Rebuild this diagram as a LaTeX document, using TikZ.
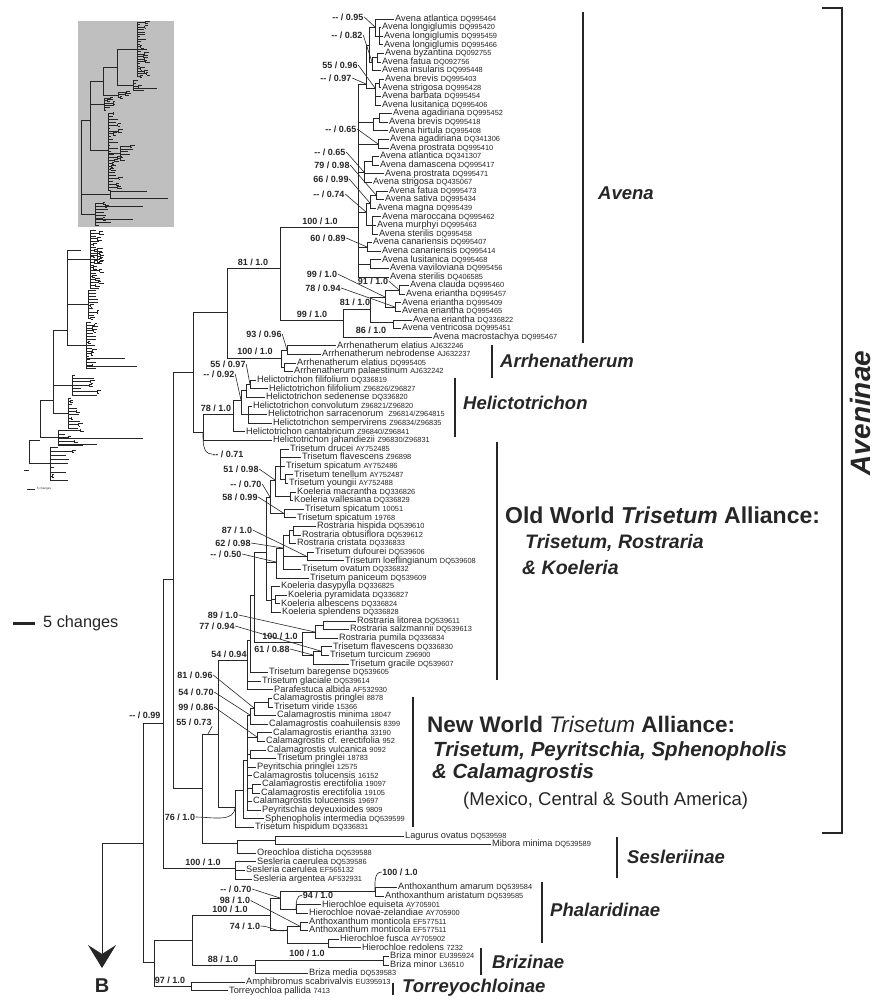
\documentclass[tikz,border=0pt]{standalone}
\usepackage{fontspec}
\setmainfont{Liberation Sans}
\usetikzlibrary{arrows.meta}

\newcommand{\accno}[1]{{\fontsize{7.4}{8}\selectfont #1}}

\tikzset{
  leaf/.style={anchor=west, inner sep=1pt, text height=6.6pt, text depth=1.9pt, font=\fontsize{9.2}{10}\selectfont},
  supp/.style={inner sep=0.5pt, font=\fontsize{9}{10}\selectfont\bfseries},
  lead/.style={line width=0.6pt},
  cbar/.style={line width=2.4pt},
  clab/.style={anchor=west, inner sep=0pt, font=\fontsize{18.5}{20}\selectfont\bfseries\itshape},
  thumb/.style={line width=0.5pt}
}

\begin{document}
\begin{tikzpicture}[x=1pt, y=-1pt, color=black!85]
\useasboundingbox (0,0) rectangle (880,1005);

% overview of the whole tree
\fill[black!25] (78,21) rectangle (174,227);
\pgfmathsetseed{4}
\foreach \sx/\ya/\yb/\n/\lm in {137/22/76/22/8, 133/80/90/3/10, 118/92/97/2/8, 104/98/110/5/9,
    108/113/190/26/9, 120/146/160/5/11, 95/203/225/7/14, 90/230/288/20/8, 97/248/262/5/7,
    88/290/318/9/9, 86/322/368/16/9, 72/375/395/6/26, 68/398/428/9/10, 58/430/445/4/24, 50/447/480/8/22}
{
  \draw[thumb] (\sx,\ya) -- (\sx,\yb);
  \foreach \k in {0,...,\n}
  {
    \pgfmathsetmacro{\yy}{\ya+(\yb-\ya)*\k/\n}
    \pgfmathsetmacro{\ll}{2+\lm*rnd}
    \draw[thumb] (\sx,\yy) -- ++(\ll,0);
    \pgfmathtruncatemacro{\fk}{rnd>0.55}
    \ifnum\fk=1
      \draw[thumb] (\sx+\ll,\yy-1.2) -- ++(0,2.4);
      \draw[thumb] (\sx+\ll,\yy-1.2) -- ++({1+4*rnd},0);
      \draw[thumb] (\sx+\ll,\yy+1.2) -- ++({1+4*rnd},0);
    \fi
  }
}
\draw[thumb] (137,49) -| (117,85) -- (133,85);
\draw[thumb] (133,88) -- (157,88);
\draw[thumb] (117,67) -| (103,95) -- (118,95);
\draw[thumb] (103,81) -| (90,150) -- (108,150);
\draw[thumb] (90,104) -- (104,104);
\draw[thumb] (108,153) -- (120,153);
\draw[thumb] (90,120) -| (81,214) -- (95,214);
\draw[thumb] (81,194) -- (110,194);
\draw[thumb] (110,191) -- (110,198);
\draw[thumb] (110,191) -- (147,191);
\draw[thumb] (110,198) -- (168,198);
\draw[thumb] (95,206) -- (143,206);
\draw[thumb] (95,219) -- (133,219);
\draw[thumb] (81,250) -| (67,345) -- (86,345);
\draw[thumb] (67,259) -- (90,259);
\draw[thumb] (67,304) -- (88,304);
\draw[thumb] (90,255) -- (97,255);
\draw[thumb] (86,366) -- (137,366);
\draw[thumb] (86,358) -- (125,358);
\draw[thumb] (67,330) -| (53,413) -- (68,413);
\draw[thumb] (53,385) -- (72,385);
\draw[thumb] (53,400) -| (40,437) -- (58,437);
\draw[thumb] (58,438) -- (143,438);
\draw[thumb] (58,444) -- (97,444);
\draw[thumb] (40,440) -| (29,463) -- (50,463);
\draw[thumb] (29,470) -- (24,470);
\draw[line width=1pt] (27,489) -- (35,489);
\node[anchor=west, inner sep=0pt, font=\fontsize{3}{3}\selectfont] (tsc) at (37,489) {5 changes};

% scale
\draw[line width=3pt] (13,623) -- (35,623);
\node[anchor=west, inner sep=0pt, font=\fontsize{16.3}{18}\selectfont] (sc) at (43,623) {5 changes};

% tips
\node[leaf] (t0) at (394,19.0) {Avena atlantica \accno{DQ995464}};
\node[leaf] (t1) at (381,27.6) {Avena longiglumis \accno{DQ995420}};
\node[leaf] (t2) at (383,36.2) {Avena longiglumis \accno{DQ995459}};
\node[leaf] (t3) at (383,44.8) {Avena longiglumis \accno{DQ995466}};
\node[leaf] (t4) at (384,53.4) {Avena byzantina \accno{DQ092755}};
\node[leaf] (t5) at (381,62.0) {Avena fatua \accno{DQ092756}};
\node[leaf] (t6) at (381,70.6) {Avena insularis \accno{DQ995448}};
\node[leaf] (t7) at (384,79.2) {Avena brevis \accno{DQ995403}};
\node[leaf] (t8) at (381,87.8) {Avena strigosa \accno{DQ995428}};
\node[leaf] (t9) at (381,96.4) {Avena barbata \accno{DQ995454}};
\node[leaf] (t10) at (381,105.0) {Avena lusitanica \accno{DQ995406}};
\node[leaf] (t11) at (392,113.6) {Avena agadiriana \accno{DQ995452}};
\node[leaf] (t12) at (388,122.2) {Avena brevis \accno{DQ995418}};
\node[leaf] (t13) at (388,130.8) {Avena hirtula \accno{DQ995408}};
\node[leaf] (t14) at (389,139.4) {Avena agadiriana \accno{DQ341306}};
\node[leaf] (t15) at (389,148.0) {Avena prostrata \accno{DQ995410}};
\node[leaf] (t16) at (379,156.6) {Avena atlantica \accno{DQ341307}};
\node[leaf] (t17) at (379,165.2) {Avena damascena \accno{DQ995417}};
\node[leaf] (t18) at (384,173.8) {Avena prostrata \accno{DQ995471}};
\node[leaf] (t19) at (372,182.4) {Avena strigosa \accno{DQ435067}};
\node[leaf] (t20) at (388,191.0) {Avena fatua \accno{DQ995473}};
\node[leaf] (t21) at (384,199.6) {Avena sativa \accno{DQ995434}};
\node[leaf] (t22) at (376,208.2) {Avena magna \accno{DQ995439}};
\node[leaf] (t23) at (381,216.8) {Avena maroccana \accno{DQ995462}};
\node[leaf] (t24) at (376,225.4) {Avena murphyi \accno{DQ995463}};
\node[leaf] (t25) at (378,234.0) {Avena sterilis \accno{DQ995458}};
\node[leaf] (t26) at (372,242.6) {Avena canariensis \accno{DQ995407}};
\node[leaf] (t27) at (381,251.2) {Avena canariensis \accno{DQ995414}};
\node[leaf] (t28) at (381,259.8) {Avena lusitanica \accno{DQ995468}};
\node[leaf] (t29) at (389,268.4) {Avena vaviloviana \accno{DQ995456}};
\node[leaf] (t30) at (389,277.0) {Avena sterilis \accno{DQ406585}};
\node[leaf] (t31) at (409,285.6) {Avena clauda \accno{DQ995460}};
\node[leaf] (t32) at (405,294.2) {Avena eriantha \accno{DQ995457}};
\node[leaf] (t33) at (401,302.8) {Avena eriantha \accno{DQ995409}};
\node[leaf] (t34) at (401,311.4) {Avena eriantha \accno{DQ995465}};
\node[leaf] (t35) at (412,320.0) {Avena eriantha \accno{DQ336822}};
\node[leaf] (t36) at (401,328.6) {Avena ventricosa \accno{DQ995451}};
\node[leaf] (t37) at (432,337.2) {Avena macrostachya \accno{DQ995467}};
\node[leaf] (t38) at (336,345.8) {Arrhenatherum elatius \accno{AJ632246}};
\node[leaf] (t39) at (321,354.4) {Arrhenatherum nebrodense \accno{AJ632237}};
\node[leaf] (t40) at (296,363.0) {Arrhenatherum elatius \accno{DQ995405}};
\node[leaf] (t41) at (293,371.6) {Arrhenatherum palaestinum \accno{AJ632242}};
\node[leaf] (t42) at (256,380.2) {Helictotrichon filifolium \accno{DQ336819}};
\node[leaf] (t43) at (268,388.8) {Helictotrichon filifolium \accno{Z96826/Z96827}};
\node[leaf] (t44) at (265,397.4) {Helictotrichon sedenense \accno{DQ336820}};
\node[leaf] (t45) at (252,406.0) {Helictotrichon convolutum \accno{Z96821/Z96820}};
\node[leaf] (t46) at (267,414.6) {Helictotrichon sarracenorum \ \accno{Z96814/Z964815}};
\node[leaf] (t47) at (272,423.2) {Helictotrichon sempervirens \accno{Z96834/Z96835}};
\node[leaf] (t48) at (245,431.8) {Helictotrichon cantabricum \accno{Z96840/Z96841}};
\node[leaf] (t49) at (272,440.4) {Helictotrichon jahandiezii \accno{Z96830/Z96831}};
\node[leaf] (t50) at (289,449.0) {Trisetum drucei \accno{AY752485}};
\node[leaf] (t51) at (301,457.6) {Trisetum flavescens \accno{Z96898}};
\node[leaf] (t52) at (285,466.2) {Trisetum spicatum \accno{AY752486}};
\node[leaf] (t53) at (293,474.8) {Trisetum tenellum \accno{AY752487}};
\node[leaf] (t54) at (288,483.4) {Trisetum youngii \accno{AY752488}};
\node[leaf] (t55) at (296,492.0) {Koeleria macrantha \accno{DQ336826}};
\node[leaf] (t56) at (293,500.6) {Koeleria vallesiana \accno{DQ336829}};
\node[leaf] (t57) at (304,509.2) {Trisetum spicatum \accno{10051}};
\node[leaf] (t58) at (296,517.8) {Trisetum spicatum \accno{19768}};
\node[leaf] (t59) at (316,526.4) {Rostraria hispida \accno{DQ539610}};
\node[leaf] (t60) at (301,535.0) {Rostraria obtusiflora \accno{DQ539612}};
\node[leaf] (t61) at (296,543.6) {Rostraria cristata \accno{DQ336833}};
\node[leaf] (t62) at (314,552.2) {Trisetum dufourei \accno{DQ539606}};
\node[leaf] (t63) at (344,560.8) {Trisetum loeflingianum \accno{DQ539608}};
\node[leaf] (t64) at (301,569.4) {Trisetum ovatum \accno{DQ336832}};
\node[leaf] (t65) at (309,578.0) {Trisetum paniceum \accno{DQ539609}};
\node[leaf] (t66) at (280,586.6) {Koeleria dasypylla \accno{DQ336825}};
\node[leaf] (t67) at (287,595.2) {Koeleria pyramidata \accno{DQ336827}};
\node[leaf] (t68) at (280,603.8) {Koeleria albescens \accno{DQ336824}};
\node[leaf] (t69) at (281,612.4) {Koeleria splendens \accno{DQ336828}};
\node[leaf] (t70) at (356,621.0) {Rostraria litorea \accno{DQ539611}};
\node[leaf] (t71) at (349,629.6) {Rostraria salzmannii \accno{DQ539613}};
\node[leaf] (t72) at (338,638.2) {Rostraria pumila \accno{DQ336834}};
\node[leaf] (t73) at (332,646.8) {Trisetum flavescens \accno{DQ336830}};
\node[leaf] (t74) at (329,655.4) {Trisetum turcicum \accno{Z96900}};
\node[leaf] (t75) at (349,664.0) {Trisetum gracile \accno{DQ539607}};
\node[leaf] (t76) at (268,672.6) {Trisetum baregense \accno{DQ539605}};
\node[leaf] (t77) at (261,681.2) {Trisetum glaciale \accno{DQ539614}};
\node[leaf] (t78) at (273,689.8) {Parafestuca albida \accno{AF532930}};
\node[leaf] (t79) at (272,698.4) {Calamagrostis pringlei \accno{8878}};
\node[leaf] (t80) at (273,707.0) {Trisetum viride \accno{15366}};
\node[leaf] (t81) at (276,715.6) {Calamagrostis minima \accno{18047}};
\node[leaf] (t82) at (268,724.2) {Calamagrostis coahuilensis \accno{8399}};
\node[leaf] (t83) at (272,732.8) {Calamagrostis eriantha \accno{33190}};
\node[leaf] (t84) at (265,741.4) {Calamagrostis cf. erectifolia \accno{952}};
\node[leaf] (t85) at (266,750.0) {Calamagrostis vulcanica \accno{9092}};
\node[leaf] (t86) at (276,758.6) {Trisetum pringlei \accno{18783}};
\node[leaf] (t87) at (256,767.2) {Peyritschia pringlei \accno{12575}};
\node[leaf] (t88) at (252,775.8) {Calamagrostis tolucensis \accno{16152}};
\node[leaf] (t89) at (261,784.4) {Calamagrostis erectifolia \accno{19097}};
\node[leaf] (t90) at (260,793.0) {Calamagrostis erectifolia \accno{19105}};
\node[leaf] (t91) at (252,801.6) {Calamagrostis tolucensis \accno{19697}};
\node[leaf] (t92) at (261,810.2) {Peyritschia deyeuxioides \accno{9809}};
\node[leaf] (t93) at (264,818.8) {Sphenopholis intermedia \accno{DQ539599}};
\node[leaf] (t94) at (254,827.4) {Trisetum hispidum \accno{DQ336831}};
\node[leaf] (t95) at (404,836.0) {Lagurus ovatus \accno{DQ539598}};
\node[leaf] (t96) at (491,844.6) {Mibora minima \accno{DQ539589}};
\node[leaf] (t97) at (256,853.2) {Oreochloa disticha \accno{DQ539588}};
\node[leaf] (t98) at (256,861.8) {Sesleria caerulea \accno{DQ539586}};
\node[leaf] (t99) at (245,870.4) {Sesleria caerulea \accno{EF565132}};
\node[leaf] (t100) at (252,879.0) {Sesleria argentea \accno{AF532931}};
\node[leaf] (t101) at (397,887.6) {Anthoxanthum amarum \accno{DQ539584}};
\node[leaf] (t102) at (384,896.2) {Anthoxanthum aristatum \accno{DQ539585}};
\node[leaf] (t103) at (321,904.8) {Hierochloe equiseta \accno{AY705901}};
\node[leaf] (t104) at (308,913.4) {Hierochloe novae-zelandiae \accno{AY705900}};
\node[leaf] (t105) at (308,922.0) {Anthoxanthum monticola \accno{EF577511}};
\node[leaf] (t106) at (308,930.6) {Anthoxanthum monticola \accno{EF577511}};
\node[leaf] (t107) at (339,939.2) {Hierochloe fusca \accno{AY705902}};
\node[leaf] (t108) at (361,947.8) {Hierochloe redolens \accno{7232}};
\node[leaf] (t109) at (389,956.4) {Briza minor \accno{EU395924}};
\node[leaf] (t110) at (389,965.0) {Briza minor \accno{L36510}};
\node[leaf] (t111) at (308,973.6) {Briza media \accno{DQ539583}};
\node[leaf] (t112) at (245,982.2) {Amphibromus scabrivalvis \accno{EU395913}};
\node[leaf] (t113) at (228,990.8) {Torreyochloa pallida \accno{7413}};

% internal nodes
\coordinate (a01) at (379,36.2);
\coordinate (a0) at (375,27);
\coordinate (a1) at (377,57.7);
\coordinate (a1b) at (372,62);
\coordinate (a12) at (369,45);
\coordinate (a3a) at (379,83.5);
\coordinate (a3) at (375,88);
\coordinate (a2) at (366,84);
\coordinate (a4a) at (379,118);
\coordinate (a4) at (373,122);
\coordinate (a5) at (378,144);
\coordinate (a9a) at (372,161);
\coordinate (a9) at (364,172);
\coordinate (a6) at (376,195);
\coordinate (a6b) at (370,203);
\coordinate (a7) at (372,225);
\coordinate (a67) at (366,212);
\coordinate (a10) at (367,247);
\coordinate (a11) at (370,264);
\coordinate (av) at (358,227);
\coordinate (e3) at (399,290);
\coordinate (e4) at (395,307);
\coordinate (e2) at (385,297);
\coordinate (e5) at (393,322);
\coordinate (e1) at (370,309);
\coordinate (e0) at (343,320);
\coordinate (avg) at (280,268);
\coordinate (ar1) at (287,350);
\coordinate (ar2) at (284,367);
\coordinate (arr) at (281,358);
\coordinate (aa) at (227,312);
\coordinate (h1) at (250,384.5);
\coordinate (h2) at (246,390);
\coordinate (h4) at (248,414);
\coordinate (h3) at (241,400);
\coordinate (h5) at (233,414);
\coordinate (h0) at (203,432);
\coordinate (bb193) at (193,372);
\coordinate (g1c) at (285,479);
\coordinate (g1) at (280,466);
\coordinate (g2) at (290,496.3);
\coordinate (g12) at (275,480);
\coordinate (g3) at (284,513.5);
\coordinate (g123) at (270,497);
\coordinate (g4aa) at (293,530.7);
\coordinate (g4a) at (289,535);
\coordinate (g4b) at (307,556.5);
\coordinate (g4) at (283,548);
\coordinate (g45) at (276,562);
\coordinate (g5b) at (275,599.5);
\coordinate (g5) at (271,600);
\coordinate (owA) at (266,552);
\coordinate (rla) at (323,625.3);
\coordinate (rlb) at (315,632);
\coordinate (rlc) at (321,651.1);
\coordinate (rld) at (313,655);
\coordinate (rl) at (302,642);
\coordinate (ow2) at (254,595);
\coordinate (ow1) at (250,640);
\coordinate (n5494) at (247,660);
\coordinate (nwa) at (268,702.7);
\coordinate (nwb) at (254,708);
\coordinate (nwc) at (250,715);
\coordinate (nwd) at (257,737);
\coordinate (nwe) at (250,754.3);
\coordinate (nwg) at (252,788.7);
\coordinate (nw2) at (247,760);
\coordinate (nw1) at (243,790);
\coordinate (nw0) at (235,807);
\coordinate (n5573) at (218,734);
\coordinate (k5573) at (208,734);
\coordinate (lm) at (275,840);
\coordinate (lag) at (237,843);
\coordinate (bb202) at (202,788);
\coordinate (bb173) at (173,579);
\coordinate (ses) at (235,868);
\coordinate (bb163) at (163,723);
\coordinate (ph1) at (375,891);
\coordinate (ph3) at (296,909);
\coordinate (ph2) at (280,898);
\coordinate (ph4) at (300,926.3);
\coordinate (ph7) at (328,943);
\coordinate (ph6) at (287,930);
\coordinate (ph5) at (270,915);
\coordinate (br1) at (383,960.7);
\coordinate (br0) at (255,965);
\coordinate (phb) at (192,940);
\coordinate (tor) at (191,986);
\coordinate (n154) at (154,962);
\coordinate (n099) at (143,843);
\coordinate (barr) at (102,968);

% branches
\begin{scope}[every edge/.style={draw=black!85, line width=0.9pt, to path={|- (\tikztotarget)}}]
  \path (a01) edge (t1) edge (t2) edge (t3);
  \path (a0) edge (t0) edge (a01);
  \path (a1) edge (t4) edge (t5);
  \path (a1b) edge (a1) edge (t6);
  \path (a12) edge (a0) edge (a1b);
  \path (a3a) edge (t7) edge (t8);
  \path (a3) edge (a3a) edge (t9) edge (t10);
  \path (a2) edge (a12) edge (a3);
  \path (a4a) edge (t11) edge (t12);
  \path (a4) edge (a4a) edge (t13);
  \path (a5) edge (t14) edge (t15);
  \path (a9a) edge (t16) edge (t17);
  \path (a9) edge (a9a) edge (t18) edge (t19);
  \path (a6) edge (t20) edge (t21);
  \path (a6b) edge (a6) edge (t22);
  \path (a7) edge (t23) edge (t24) edge (t25);
  \path (a67) edge (a6b) edge (a7);
  \path (a10) edge (t26) edge (t27);
  \path (a11) edge (t28) edge (t29);
  \path (av) edge (a2) edge (a4) edge (a5) edge (a9) edge (a67) edge (a10) edge (a11) edge (t30);
  \path (e3) edge (t31) edge (t32);
  \path (e4) edge (t33) edge (t34);
  \path (e2) edge (e3) edge (e4);
  \path (e5) edge (t35) edge (t36);
  \path (e1) edge (e2) edge (e5);
  \path (e0) edge (e1) edge (t37);
  \path (avg) edge (av) edge (e0);
  \path (ar1) edge (t38) edge (t39);
  \path (ar2) edge (t40) edge (t41);
  \path (arr) edge (ar1) edge (ar2);
  \path (aa) edge (avg) edge (arr);
  \path (h1) edge (t42) edge (t43);
  \path (h2) edge (h1) edge (t44);
  \path (h4) edge (t45) edge (t46) edge (t47);
  \path (h3) edge (h2) edge (h4);
  \path (h5) edge (h3) edge (t48);
  \path (h0) edge (h5) edge (t49);
  \path (bb193) edge (aa) edge (h0);
  \path (g1c) edge (t53) edge (t54);
  \path (g1) edge (t50) edge (t51) edge (t52) edge (g1c);
  \path (g2) edge (t55) edge (t56);
  \path (g12) edge (g1) edge (g2);
  \path (g3) edge (t57) edge (t58);
  \path (g123) edge (g12) edge (g3);
  \path (g4aa) edge (t59) edge (t60);
  \path (g4a) edge (g4aa) edge (t61);
  \path (g4b) edge (t62) edge (t63);
  \path (g4) edge (g4a) edge (g4b) edge (t64);
  \path (g45) edge (g4) edge (t65);
  \path (g5b) edge (t67) edge (t68);
  \path (g5) edge (t66) edge (g5b) edge (t69);
  \path (owA) edge (g123) edge (g45) edge (g5);
  \path (rla) edge (t70) edge (t71);
  \path (rlb) edge (rla) edge (t72);
  \path (rlc) edge (t73) edge (t74);
  \path (rld) edge (rlc) edge (t75);
  \path (rl) edge (rlb) edge (rld);
  \path (ow2) edge (owA) edge (rl);
  \path (ow1) edge (ow2) edge (t76);
  \path (n5494) edge (ow1) edge (t77) edge (t78);
  \path (nwa) edge (t79) edge (t80);
  \path (nwb) edge (nwa) edge (t81);
  \path (nwc) edge (nwb) edge (t82);
  \path (nwd) edge (t83) edge (t84);
  \path (nwe) edge (t85) edge (t86);
  \path (nwg) edge (t89) edge (t90);
  \path (nw2) edge (nwc) edge (nwd) edge (nwe) edge (t87) edge (t88) edge (nwg) edge (t91) edge (t92);
  \path (nw1) edge (nw2) edge (t93);
  \path (nw0) edge (nw1) edge (t94);
  \path (n5573) edge (n5494) edge (nw0);
  \path (lm) edge (t95) edge (t96);
  \path (lag) edge (lm) edge (t97);
  \path (bb202) edge (n5573) edge (lag);
  \path (bb173) edge (bb193) edge (bb202);
  \path (ses) edge (t98) edge (t99) edge (t100);
  \path (bb163) edge (bb173) edge (ses);
  \path (ph1) edge (t101) edge (t102);
  \path (ph3) edge (t103) edge (t104);
  \path (ph2) edge (ph1) edge (ph3);
  \path (ph4) edge (t105) edge (t106);
  \path (ph7) edge (t107) edge (t108);
  \path (ph6) edge (ph4) edge (ph7);
  \path (ph5) edge (ph2) edge (ph6);
  \path (br1) edge (t109) edge (t110);
  \path (br0) edge (br1) edge (t111);
  \path (phb) edge (ph5) edge (br0);
  \path (tor) edge (t112) edge (t113);
  \path (n154) edge (phb) edge (tor);
  \path (n099) edge (bb163) edge (n154);
\end{scope}

% continuation to part B
\draw[line width=0.9pt, -{Stealth[length=23pt, width=28pt, inset=9pt]}] (n099) -| (barr);
\node[inner sep=0pt, font=\fontsize{20}{22}\selectfont\bfseries] (lb) at (102,986) {B};

% support values
\node[supp] (l095) at (348,17) {-{}- / 0.95};
\node[supp] (l082) at (347,35) {-{}- / 0.82};
\node[supp] (l5596) at (340,65) {55 / 0.96};
\node[supp] (l097) at (336,78) {-{}- / 0.97};
\node[supp] (l065a) at (341,129) {-{}- / 0.65};
\node[supp] (l065b) at (330,152) {-{}- / 0.65};
\node[supp] (l7998) at (332,165) {79 / 0.98};
\node[supp] (l6699) at (331,179) {66 / 0.99};
\node[supp] (l074) at (329,194) {-{}- / 0.74};
\node[supp] (l100av) at (320,221) {100 / 1.0};
\node[supp] (l6089) at (328,238) {60 / 0.89};
\node[supp] (l9910) at (322,274) {99 / 1.0};
\node[supp] (l9110) at (373,281) {91 / 1.0};
\node[supp] (l7894) at (323,288) {78 / 0.94};
\node[supp] (l8110e) at (355,302) {81 / 1.0};
\node[supp] (l9910b) at (312,314) {99 / 1.0};
\node[supp] (l8610) at (371,330) {86 / 1.0};
\node[supp] (l8110a) at (253,262) {81 / 1.0};
\node[supp] (l9396) at (264,334) {93 / 0.96};
\node[supp] (l100ar) at (255,351) {100 / 1.0};
\node[supp] (l5597) at (228,364) {55 / 0.97};
\node[supp] (l092) at (219,374) {-{}- / 0.92};
\node[supp] (l7810) at (216,408) {78 / 1.0};
\node[supp] (l071) at (228,454) {-{}- / 0.71};
\node[supp] (l5198) at (241,469) {51 / 0.98};
\node[supp] (l070) at (246,484) {-{}- / 0.70};
\node[supp] (l5899) at (240,497) {58 / 0.99};
\node[supp] (l8710) at (237,530) {87 / 1.0};
\node[supp] (l6298) at (233,543) {62 / 0.98};
\node[supp] (l050) at (226,554) {-{}- / 0.50};
\node[supp] (l8910) at (223,615) {89 / 1.0};
\node[supp] (l7794) at (217,626) {77 / 0.94};
\node[supp] (l100rl) at (280,636) {100 / 1.0};
\node[supp] (l6188) at (272,649) {61 / 0.88};
\node[supp] (l5494) at (229,654) {54 / 0.94};
\node[supp] (l8196) at (195,675) {81 / 0.96};
\node[supp] (l5470) at (196,692) {54 / 0.70};
\node[supp] (l9986) at (196,707) {99 / 0.86};
\node[supp] (l5573) at (194,722) {55 / 0.73};
\node[supp] (l7610) at (180,817) {76 / 1.0};
\node[supp] (l099) at (145,715) {-{}- / 0.99};
\node[supp] (l100se) at (203,862) {100 / 1.0};
\node[supp] (l100ph) at (400,872) {100 / 1.0};
\node[supp] (l070p) at (236,889) {-{}- / 0.70};
\node[supp] (l9410) at (318,895) {94 / 1.0};
\node[supp] (l9810) at (235,900.5) {98 / 1.0};
\node[supp] (l100ph5) at (230,909.5) {100 / 1.0};
\node[supp] (l7410) at (245,926) {74 / 1.0};
\node[supp] (l100br) at (307,953) {100 / 1.0};
\node[supp] (l8810) at (223,959) {88 / 1.0};
\node[supp] (l9710) at (170,980) {97 / 1.0};

% leaders
\draw[lead] (l095.east) -- (a0);
\draw[lead] (l082.east) -- (a1b);
\draw[lead] (l5596.east) -- (a3);
\draw[lead] (l097.east) -- (a2);
\draw[lead] (l065a.east) -- (a5);
\draw[lead] (l065b.east) -- (a9);
\draw[lead] (l7998.east) -- (a6);
\draw[lead] (l6699.east) -- (a6b);
\draw[lead] (l074.east) -- (a67);
\draw[lead] (l6089.east) -- (a10);
\draw[lead] (l9910.east) -- (e2);
\draw[lead] (l9110.east) -- (e3);
\draw[lead] (l7894.east) -- (e4);
\draw[lead] (l9396.east) -- (ar1);
\draw[lead] (l5597.east) -- (h1);
\draw[lead] (l092.east) -- (h3);
\draw[lead] (l071.west) to[out=180, in=-90] (h0);
\draw[lead] (l5198.east) -- (g12);
\draw[lead] (l070.east) -- (g123);
\draw[lead] (l5899.east) -- (g3);
\draw[lead] (l8710.east) -- (g4b);
\draw[lead] (l6298.east) -- (g4);
\draw[lead] (l050.east) -- (g45);
\draw[lead] (l8910.east) -- (rlb);
\draw[lead] (l7794.east) -- (rlc);
\draw[lead] (l6188.east) -- (rld);
\draw[lead] (l8196.east) -- (nwb);
\draw[lead] (l5470.east) -- (nwc);
\draw[lead] (l9986.east) -- (nwd);
\draw[lead] (l5573.south east) -- (k5573);
\draw[lead] (l7610.east) to[out=0, in=-90] (nw0);
\draw[lead] (l100ph.west) to[out=180, in=90] (ph1);
\draw[lead] (l070p.east) -- (ph2);
\draw[lead] (l9410.west) to[out=180, in=90] (ph3);
\draw[lead] (l9810.east) -- (ph4);
\draw[lead] (l7410.east) to[out=0, in=200] (ph6);

% group bars and names
\draw[cbar] (583,12) -- (583,343);
\node[clab] (gav) at (598,193) {Avena};
\draw[cbar] (492,345) -- (492,378);
\node[clab] (gar) at (500,361) {Arrhenatherum};
\draw[cbar] (455,378) -- (455,437);
\node[clab] (ghe) at (463,403) {Helictotrichon};
\draw[cbar] (497,442) -- (497,680);
\node[anchor=west, inner sep=0pt, font=\fontsize{23}{25}\selectfont\bfseries] (gow) at (505,515) {Old World \textit{Trisetum} Alliance:};
\node[anchor=west, inner sep=0pt, font=\fontsize{19.5}{21}\selectfont\bfseries\itshape] (gow2) at (525,543) {Trisetum, Rostraria};
\node[anchor=west, inner sep=0pt, font=\fontsize{19.5}{21}\selectfont\bfseries\itshape] (gow3) at (522,568) {\& Koeleria};
\draw[cbar] (413,697) -- (413,827);
\node[anchor=west, inner sep=0pt, font=\fontsize{22.5}{24}\selectfont\bfseries] (gnw) at (427,724) {New World {\mdseries\itshape Trisetum} Alliance:};
\node[anchor=west, inner sep=0pt, font=\fontsize{20.5}{22}\selectfont\bfseries\itshape] (gnw2) at (433,751) {Trisetum, Peyritschia, Sphenopholis};
\node[anchor=west, inner sep=0pt, font=\fontsize{20.5}{22}\selectfont\bfseries\itshape] (gnw3) at (432,773) {\& Calamagrostis};
\node[anchor=west, inner sep=0pt, font=\fontsize{18.5}{20}\selectfont] (gnw4) at (463,801) {(Mexico, Central \& South America)};
\draw[cbar] (617,837) -- (617,878);
\node[clab] (gse) at (627,857) {Sesleriinae};
\draw[cbar] (542,882) -- (542,943);
\node[clab] (gph) at (550,910) {Phalaridinae};
\draw[cbar] (481,948) -- (481,975);
\node[clab] (gbr) at (492,962) {Brizinae};
\draw[cbar] (393,983) -- (393,995);
\node[clab] (gto) at (402,988) {Torreyochloinae};
\draw[cbar] (822,8) -- (842,8) -- (842,833) -- (822,833);
\node[rotate=90, inner sep=0pt, font=\fontsize{28}{30}\selectfont\bfseries\itshape] (gae) at (860,413) {Aveninae};
\end{tikzpicture}
\end{document}
